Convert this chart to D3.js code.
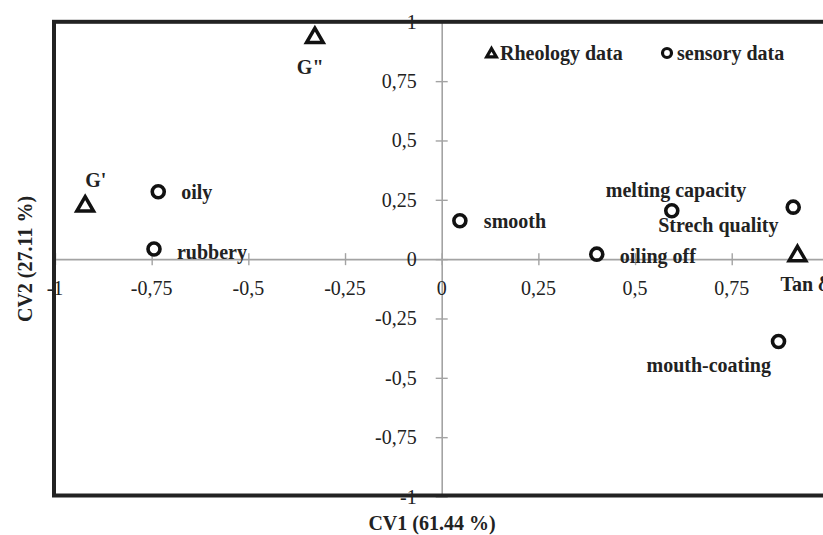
<!DOCTYPE html>
<html><head><meta charset="utf-8">
<script src="https://cdn.jsdelivr.net/npm/d3@7"></script>
<style>body{margin:0;background:#fff}svg{display:block}text{font-family:"Liberation Serif","Times New Roman",serif}</style>
</head><body>
<svg id="chart" width="823" height="535"></svg>
<script>
const sensoryNames = ["oily","rubbery","smooth","oiling off","melting capacity","Strech quality","mouth-coating"];
const sensoryCV1 = [-0.733,-0.744,0.047,0.401,0.595,0.909,0.871];
const sensoryCV2 = [0.284,0.043,0.162,0.021,0.204,0.219,-0.347];
const rheoNames = ["G'","G\"","Tan δ"];
const rheoCV1 = [-0.922,-0.328,0.920];
const rheoCV2 = [0.227,0.937,0.018];
const tickValues = [-1,-0.75,-0.5,-0.25,0,0.25,0.5,0.75,1];
const tickLabels = ["-1","-0,75","-0,5","-0,25","0","0,25","0,5","0,75","1"];
const xTitle = "CV1 (61.44 %)";
const yTitle = "CV2 (27.11 %)";
const legendLabels = ["Rheology data","sensory data"];

// label offsets in pixels (layout only)
const labelOffset = {
  "oily":[23,0],"rubbery":[23,3],"smooth":[24,0],"oiling off":[23,2],
  "melting capacity":[-66,-21],"Strech quality":[-135,18],"mouth-coating":[-132,23],
  "G'":[0,-25],"G\"":[-18,30],"Tan δ":[-17,29]
};

const svg = d3.select("#chart");
const x = d3.scaleLinear().domain([-1,1]).range([55,828.4]);
const y = d3.scaleLinear().domain([-1,1]).range([496.5,21.8]);
const axisCol = "#a3a3a3";

// axes through origin
const xa = svg.append("g").attr("transform",`translate(0,${y(0)})`)
  .call(d3.axisBottom(x).tickValues(tickValues).tickSize(0).tickFormat(""));
xa.select(".domain").attr("stroke",axisCol).attr("stroke-width",1.6);
xa.selectAll(".tick line").attr("y1",-6).attr("y2",6).attr("stroke",axisCol).attr("stroke-width",1.4);
const ya = svg.append("g").attr("transform",`translate(${x(0)},0)`)
  .call(d3.axisLeft(y).tickValues(tickValues).tickSize(0).tickFormat(""));
ya.select(".domain").attr("stroke",axisCol).attr("stroke-width",1.6);
ya.selectAll(".tick line").attr("x1",-6).attr("x2",6).attr("stroke",axisCol).attr("stroke-width",1.4);

// tick labels
svg.append("g").selectAll("text").data(tickValues).join("text")
  .attr("x",d=>x(d)).attr("y",y(0)+36).attr("text-anchor","middle")
  .attr("font-size",20).attr("fill","#222").text((d,i)=>tickLabels[i]);
svg.append("g").selectAll("text").data(tickValues).join("text")
  .attr("x",x(0)-25).attr("y",d=>y(d)).attr("dy","0.35em").attr("text-anchor","end")
  .attr("font-size",20).attr("fill","#222").text((d,i)=>tickLabels[i]);

// frame
svg.append("rect").attr("x",x(-1)-1).attr("y",y(1)).attr("width",x(1)-x(-1)).attr("height",y(-1)-y(1)-1)
  .attr("fill","none").attr("stroke","#222").attr("stroke-width",4);

// markers
const triPath = d3.symbol().type(d3.symbolTriangle).size(120);
svg.append("g").selectAll("path").data(rheoNames).join("path")
  .attr("d",triPath).attr("transform",(d,i)=>`translate(${x(rheoCV1[i])},${y(rheoCV2[i])+1})`)
  .attr("fill","#fff").attr("stroke","#111").attr("stroke-width",3.5);
svg.append("g").selectAll("circle").data(sensoryNames).join("circle")
  .attr("cx",(d,i)=>x(sensoryCV1[i])).attr("cy",(d,i)=>y(sensoryCV2[i])).attr("r",6)
  .attr("fill","#fff").attr("stroke","#111").attr("stroke-width",3.6);

// point labels
const lab = svg.append("g").attr("font-size",20).attr("font-weight","bold").attr("fill","#222");
lab.selectAll("text.s").data(sensoryNames).join("text").attr("class","s")
  .attr("x",(d,i)=>x(sensoryCV1[i])+labelOffset[d][0])
  .attr("y",(d,i)=>y(sensoryCV2[i])+labelOffset[d][1]).attr("dy","0.35em").text(d=>d);
lab.selectAll("text.r").data(rheoNames).join("text").attr("class","r")
  .attr("x",(d,i)=>x(rheoCV1[i])+labelOffset[d][0])
  .attr("y",(d,i)=>y(rheoCV2[i])+labelOffset[d][1]).attr("dy","0.35em").text(d=>d);

// legend
const lg = svg.append("g");
lg.append("path").attr("d",d3.symbol().type(d3.symbolTriangle).size(40))
  .attr("transform","translate(491.5,54)").attr("fill","#fff").attr("stroke","#111").attr("stroke-width",3.2);
lg.append("text").attr("x",500).attr("y",53).attr("dy","0.35em").attr("font-size",20).attr("font-weight","bold").attr("fill","#222").text(legendLabels[0]);
lg.append("circle").attr("cx",667).attr("cy",53).attr("r",4.5).attr("fill","#fff").attr("stroke","#111").attr("stroke-width",3.2);
lg.append("text").attr("x",677).attr("y",53).attr("dy","0.35em").attr("font-size",20).attr("font-weight","bold").attr("fill","#222").text(legendLabels[1]);

// axis titles
svg.append("text").attr("x",432).attr("y",523).attr("dy","0.35em").attr("text-anchor","middle")
  .attr("font-size",20).attr("font-weight","bold").attr("fill","#222").text(xTitle);
svg.append("text").attr("transform","translate(25,259) rotate(-90)").attr("dy","0.35em").attr("text-anchor","middle")
  .attr("font-size",20).attr("font-weight","bold").attr("fill","#222").text(yTitle);
</script>
</body></html>
